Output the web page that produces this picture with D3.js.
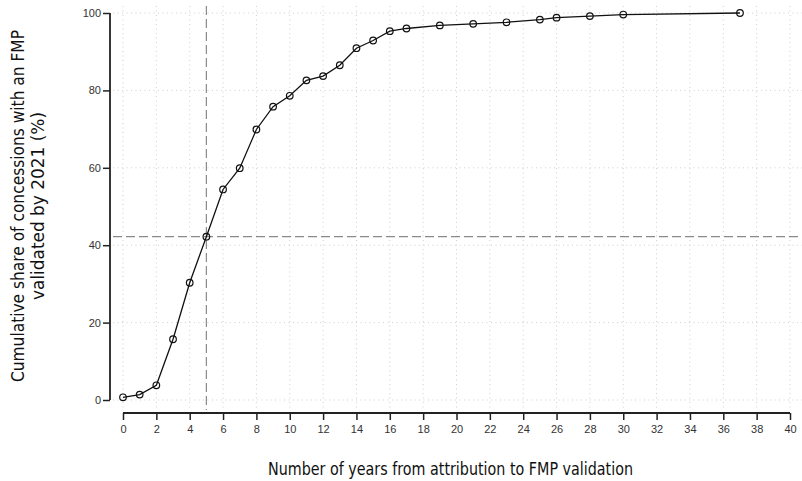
<!DOCTYPE html>
<html>
<head>
<meta charset="utf-8">
<script src="https://cdn.jsdelivr.net/npm/d3@7"></script>
<style>
  body { margin: 0; background: #fff; }
  svg { display: block; font-family: "Liberation Sans Narrow", "DejaVu Sans Condensed", sans-serif; }
</style>
</head>
<body>
<svg id="chart" width="802" height="481"></svg>
<script>
// years since attribution and cumulative share (%) of concessions with a validated FMP
const years = [0, 1, 2, 3, 4, 5, 6, 7, 8, 9, 10, 11, 12, 13, 14, 15, 16, 17, 19, 21, 23, 25, 26, 28, 30, 37];
const shares = [0.7, 1.4, 3.8, 15.7, 30.3, 42.2, 54.4, 59.9, 69.9, 75.8, 78.6, 82.6, 83.7, 86.5, 90.9, 92.9, 95.3, 96.0, 96.8, 97.2, 97.6, 98.3, 98.8, 99.2, 99.6, 100];
const xTicks = d3.range(0, 41, 2);
const yTicks = [0, 20, 40, 60, 80, 100];
const refYear = 5;
const refShare = 42.2;

const svg = d3.select("#chart");
const width = 802, height = 481;

const x = d3.scaleLinear().domain([0, 40]).range([123, 790]);
const y = d3.scaleLinear().domain([0, 100]).range([400, 13]);

// dotted grid
const grid = svg.append("g").attr("class", "grid")
    .attr("stroke", "#cfcfcf").attr("stroke-dasharray", "1,3.5").attr("stroke-width", 1);
grid.selectAll("line.v").data(xTicks).join("line")
    .attr("class", "v")
    .attr("x1", d => x(d)).attr("x2", d => x(d))
    .attr("y1", 6).attr("y2", 410);
grid.selectAll("line.h").data(yTicks).join("line")
    .attr("class", "h")
    .attr("x1", 113).attr("x2", width)
    .attr("y1", d => y(d)).attr("y2", d => y(d));

// reference lines at the median
const ref = svg.append("g").attr("stroke", "#8a8a8a").attr("stroke-dasharray", "9,4").attr("stroke-width", 1.2);
ref.append("line")
    .attr("x1", x(refYear)).attr("x2", x(refYear))
    .attr("y1", 6).attr("y2", 410);
ref.append("line")
    .attr("x1", 113).attr("x2", width)
    .attr("y1", y(refShare)).attr("y2", y(refShare));

// axes
const xAxis = svg.append("g")
    .attr("transform", "translate(0,413)")
    .call(d3.axisBottom(x).tickValues(xTicks).tickSize(7).tickPadding(5));
const yAxis = svg.append("g")
    .attr("transform", "translate(110,0)")
    .call(d3.axisLeft(y).tickValues(yTicks).tickSize(7).tickPadding(2));

[xAxis, yAxis].forEach(g => {
    g.select(".domain").attr("stroke", "#222").attr("stroke-width", 1.8);
    g.selectAll(".tick line").attr("stroke", "#222").attr("stroke-width", 1.5);
    g.selectAll(".tick text")
        .attr("fill", "#333")
        .style("font-size", "11px")
        .style("font-family", "inherit");
});
// the y axis spine has no outer ticks
yAxis.select(".domain").attr("d", `M0,${y(100)}V${y(0)}`);
xAxis.select(".domain").attr("d", `M${x(0)},0V0H${x(40)}V0`);

// curve
const pts = years.map((d, i) => [d, shares[i]]);
svg.append("g").selectAll("circle").data(pts).join("circle")
    .attr("cx", d => x(d[0])).attr("cy", d => y(d[1])).attr("r", 3.3)
    .attr("fill", "none").attr("stroke", "#111").attr("stroke-width", 1.2);
svg.append("path")
    .datum(pts)
    .attr("fill", "none").attr("stroke", "#111").attr("stroke-width", 1.3)
    .attr("d", d3.line().x(d => x(d[0])).y(d => y(d[1])));

// axis titles
svg.append("text")
    .attr("x", 450.5).attr("y", 475)
    .attr("text-anchor", "middle")
    .attr("textLength", 365).attr("lengthAdjust", "spacingAndGlyphs")
    .style("font-size", "17.5px").attr("fill", "#111")
    .text("Number of years from attribution to FMP validation");

const yt = svg.append("text")
    .attr("transform", "translate(0,206) rotate(-90)")
    .attr("text-anchor", "middle")
    .style("font-size", "17.5px").attr("fill", "#111");
yt.append("tspan").attr("x", 0).attr("y", 24)
    .attr("textLength", 352).attr("lengthAdjust", "spacingAndGlyphs")
    .text("Cumulative share of concessions with an FMP");
yt.append("tspan").attr("x", 0).attr("y", 44)
    .attr("textLength", 188).attr("lengthAdjust", "spacingAndGlyphs")
    .text("validated by 2021 (%)");
</script>
</body>
</html>
